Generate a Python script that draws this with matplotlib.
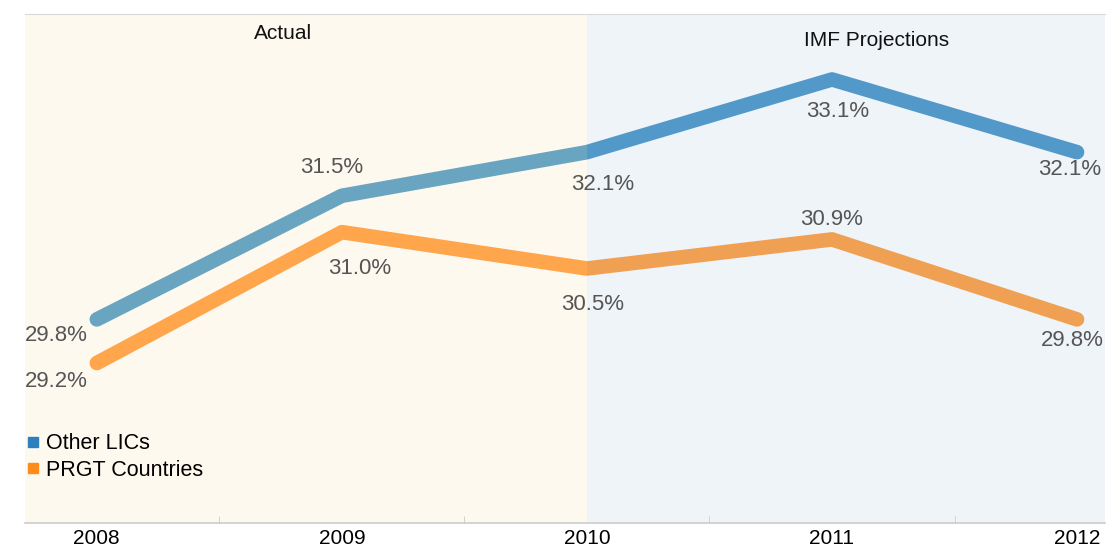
import numpy as np
import matplotlib.pyplot as plt
from matplotlib.lines import Line2D
from matplotlib.patches import Rectangle

plt.rcParams['font.family'] = ['Liberation Sans', 'DejaVu Sans']

#Chart data
years = ["2008", "2009", "2010", "2011", "2012"]
other_lics = [29.8, 31.5, 32.1, 33.1, 32.1]
prgt = [29.2, 31.0, 30.5, 30.9, 29.8]

#Label placement for each point (dx px, dy px)
other_offsets = [(-40, -16), (-10, 28), (16, -32), (6, -32), (-7, -17)]
prgt_offsets = [(-40, -18), (18, -36), (6, -36), (0, 20), (-5, -21)]

x = np.arange(len(years))

fig = plt.figure(figsize=(11.07, 5.48), dpi=100)
ax = fig.add_axes([25/1107, 25/548, 1080/1107, 509/548])
ax.set_xlim(-0.293, 4.114)
ax.set_ylim(27, 34)

#Background regions
ax.axvspan(-0.293, 2, color='#fef9ee', zorder=0, lw=0)
ax.axvspan(2, 4.114, color='#eff4f9', zorder=0, lw=0)

#Lines, coloured by region
def region_line(y, col_actual, col_proj):
    for col, x0, x1 in [(col_actual, -1, 2), (col_proj, 2, 5)]:
        ln, = ax.plot(x, y, color=col, lw=10.5, solid_capstyle='round',
                      solid_joinstyle='round', zorder=3)
        clip = Rectangle((x0, 0), x1 - x0, 100, transform=ax.transData)
        ln.set_clip_path(clip)

region_line(other_lics, '#69a5c0', '#5299c9')
region_line(prgt, '#ffa54b', '#f0a052')

#Value labels
for xi, v, off in zip(x, other_lics, other_offsets):
    ax.annotate('%.1f%%' % v, (xi, v), xytext=off, textcoords='offset pixels',
                ha='center', va='center', fontsize=16, color='#555555', zorder=4)
for xi, v, off in zip(x, prgt, prgt_offsets):
    ax.annotate('%.1f%%' % v, (xi, v), xytext=off, textcoords='offset pixels',
                ha='center', va='center', fontsize=16, color='#555555', zorder=4)

#Region titles
ax.text(0.76, 33.73, 'Actual', ha='center', va='center', fontsize=15, color='#111111')
ax.text(3.18, 33.63, 'IMF Projections', ha='center', va='center', fontsize=15, color='#111111')

#Axes styling
ax.set_xticks(x)
ax.set_xticklabels(years, fontsize=15)
ax.set_xticks(x[:-1] + 0.5, minor=True)
ax.tick_params(axis='x', which='major', length=0, pad=4)
ax.tick_params(axis='x', which='minor', length=5, color='#cccccc', direction='in')
ax.set_yticks([])
for s in ['left', 'right']:
    ax.spines[s].set_visible(False)
ax.spines['top'].set_color('#d9d9d9')
ax.spines['bottom'].set_color('#cccccc')
ax.spines['bottom'].set_linewidth(1.2)

#Legend
handles = [Line2D([], [], marker='s', ls='', color='#2e7fc0', markersize=7),
           Line2D([], [], marker='s', ls='', color='#ff8c1a', markersize=7)]
ax.legend(handles, ['Other LICs', 'PRGT Countries'], loc='lower left',
          bbox_to_anchor=(-0.008, 0.062), frameon=False, fontsize=15.5,
          handlelength=0.5, handletextpad=0.4, labelspacing=0.25, borderpad=0)

fig.savefig('out.png', dpi=100)
